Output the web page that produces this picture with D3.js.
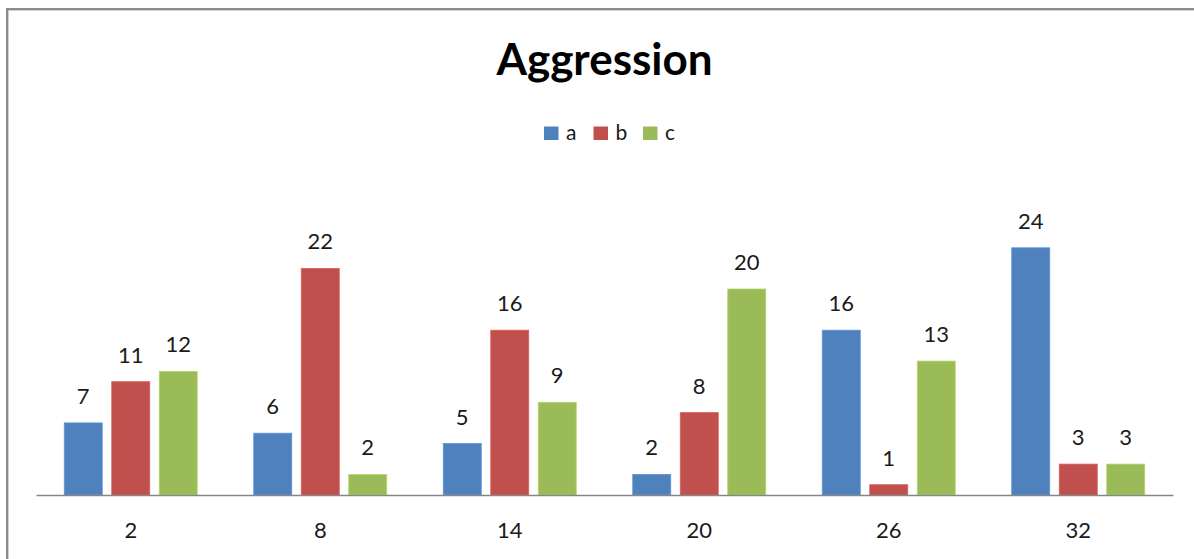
<!DOCTYPE html>
<html>
<head>
<meta charset="utf-8">
<script src="https://cdn.jsdelivr.net/npm/d3@7/dist/d3.min.js"></script>
<style>
  html, body { margin: 0; padding: 0; background: #fff; }
  svg { display: block; }
  text { font-family: Lato, "Open Sans", sans-serif; fill: #1a1a1a; }
</style>
</head>
<body>
<svg id="chart" width="1194" height="559"></svg>
<script>
// Aggression scores per time point, three groups
const categories = ["2", "8", "14", "20", "26", "32"];
const seriesNames = ["a", "b", "c"];
const seriesA = [7, 6, 5, 2, 16, 24];
const seriesB = [11, 22, 16, 8, 1, 3];
const seriesC = [12, 2, 9, 20, 13, 3];
const seriesColors = ["#4F81BD", "#C0504D", "#9BBB59"];
const titleText = "Aggression";

const seriesValues = [seriesA, seriesB, seriesC];
const rows = categories.map((cat, i) => ({
  cat,
  values: seriesNames.map((s, j) => ({ key: s, value: seriesValues[j][i], color: seriesColors[j] }))
}));

const W = 1194, H = 559;
const svg = d3.select("#chart");

// chart frame (extends past right/bottom edges)
svg.append("rect")
  .attr("x", 7).attr("y", 9)
  .attr("width", W + 20).attr("height", H + 20)
  .attr("fill", "none")
  .attr("stroke", "#8c8c8c")
  .attr("stroke-width", 2);
svg.append("rect")
  .attr("x", 8.5).attr("y", 10.5)
  .attr("width", W + 20).attr("height", H + 20)
  .attr("fill", "none")
  .attr("stroke", "#cfcfcf")
  .attr("stroke-width", 1);

const plot = { left: 36, right: 1173, top: 186, bottom: 495 };

const x0 = d3.scaleBand()
  .domain(categories)
  .range([plot.left, plot.right])
  .padding(0);

const x1 = d3.scaleBand()
  .domain(seriesNames)
  .range([0, x0.bandwidth()])
  .paddingInner(0.2)
  .paddingOuter(0.595);

const y = d3.scaleLinear()
  .domain([0, 30])
  .range([plot.bottom, plot.top]);

// title
svg.append("text")
  .attr("x", (plot.left + plot.right) / 2)
  .attr("y", 75)
  .attr("text-anchor", "middle")
  .style("font-weight", "bold")
  .style("font-size", "44px")
  .style("fill", "#000")
  .text(titleText);

// legend
const legendItemW = 49.5;
const legendX0 = (plot.left + plot.right) / 2 - 60.5;
const legend = svg.append("g");
seriesNames.forEach((s, i) => {
  const g = legend.append("g").attr("transform", `translate(${legendX0 + i * legendItemW},0)`);
  g.append("rect")
    .attr("x", 0).attr("y", 126.5)
    .attr("width", 14.5).attr("height", 13.5)
    .attr("fill", seriesColors[i]);
  g.append("text")
    .attr("x", 22).attr("y", 140)
    .style("font-size", "21px")
    .text(s);
});

// bars
const groups = svg.append("g")
  .selectAll("g")
  .data(rows)
  .join("g")
  .attr("transform", d => `translate(${x0(d.cat)},0)`);

groups.selectAll("rect")
  .data(d => d.values)
  .join("rect")
  .attr("x", d => x1(d.key))
  .attr("y", d => y(d.value))
  .attr("width", x1.bandwidth())
  .attr("height", d => y(0) - y(d.value))
  .attr("fill", d => d.color)
  .attr("stroke", d => d3.color(d.color).brighter(0.4))
  .attr("stroke-width", 0.8);

// value labels
groups.selectAll("text.val")
  .data(d => d.values)
  .join("text")
  .attr("class", "val")
  .attr("x", d => x1(d.key) + x1.bandwidth() / 2)
  .attr("y", d => y(d.value) - 19)
  .attr("text-anchor", "middle")
  .style("font-size", "22px")
  .text(d => d.value);

// category axis
const xAxis = d3.axisBottom(x0).tickSize(0).tickSizeOuter(0).tickPadding(0);
const axisG = svg.append("g")
  .attr("transform", `translate(0,${plot.bottom})`)
  .call(xAxis);
axisG.select(".domain").attr("stroke", "#868686").attr("stroke-width", 1.5);
axisG.selectAll(".tick text")
  .attr("y", 43)
  .attr("dy", null)
  .style("font-family", "Lato, 'Open Sans', sans-serif")
  .style("font-size", "22px")
  .style("fill", "#1a1a1a");
</script>
</body>
</html>
